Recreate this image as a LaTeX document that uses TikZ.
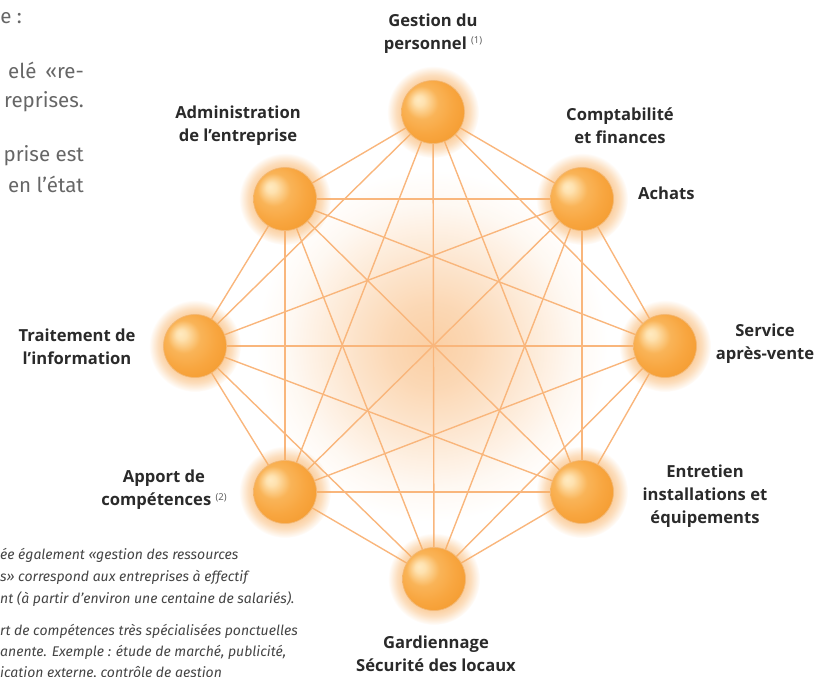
\documentclass[tikz,border=0pt]{standalone}
\usepackage{fontspec}
\setmainfont{Fira Sans}
\newfontfamily\labfont{Open Sans}
\usetikzlibrary{fadings}
\definecolor{linkc}{HTML}{F9B67C}
\definecolor{glowc}{HTML}{F8B062}
\definecolor{cglowc}{HTML}{F7A85A}
\definecolor{labc}{HTML}{2A2A2A}
\definecolor{supc}{HTML}{555555}
\definecolor{txtc}{HTML}{666666}
\definecolor{notec}{HTML}{444444}
\definecolor{rimc}{HTML}{EE9A3A}
\definecolor{hl}{HTML}{FFEAC0}
\definecolor{sa}{HTML}{FBC270}
\definecolor{sb}{HTML}{F8A640}
\definecolor{sc}{HTML}{F3992C}

\pgfdeclareradialshading{spheresh}{\pgfpoint{-12bp}{10bp}}{color(0bp)=(hl); color(4bp)=(hl!80!sa); color(13bp)=(sa!50!sb); color(23bp)=(sb); color(36bp)=(sc); color(50bp)=(sc)}
\pgfdeclareradialshading{glowfadesh}{\pgfpointorigin}{color(0bp)=(pgftransparent!0); color(16bp)=(pgftransparent!35); color(20bp)=(pgftransparent!58); color(25bp)=(pgftransparent!100); color(50bp)=(pgftransparent!100)}
\pgfdeclarefading{glowfade}{\pgfuseshading{glowfadesh}}
\pgfdeclareradialshading{cglowsh}{\pgfpointorigin}{color(0bp)=(pgftransparent!45); color(6bp)=(pgftransparent!55); color(13bp)=(pgftransparent!73); color(20bp)=(pgftransparent!92); color(25bp)=(pgftransparent!100); color(50bp)=(pgftransparent!100)}
\pgfdeclarefading{cglowfade}{\pgfuseshading{cglowsh}}

\tikzset{
  link/.style={draw=linkc, line width=1.4pt},
  halo/.style={fill=glowc, path fading=glowfade},
  sphere/.style={circle, minimum size=63pt, inner sep=0pt, shading=spheresh, draw=rimc!70, line width=0.7pt},
  lab/.style={font=\labfont\bfseries\fontsize{16.6}{22.8}\selectfont, text=labc, align=center, inner sep=0pt},
  para/.style={font=\fontsize{20.5}{29}\selectfont, text=txtc, inner sep=0pt},
  note/.style={font=\itshape\fontsize{14}{21}\selectfont, text=notec, inner sep=0pt, anchor=base west},
}
\newcommand{\fnmark}[1]{\raisebox{5.5pt}{\fontsize{9.5}{10}\selectfont\mdseries\color{supc}(#1)}}

\begin{document}
\begin{tikzpicture}[x=1pt,y=1pt]
\path[use as bounding box] (0,0) rectangle (817,-677);
\clip (0,0) rectangle (817,-677);

% centres
\coordinate (C) at (432,-346);
\coordinate (T) at (433,-112);
\coordinate (UR) at (582,-199);
\coordinate (R) at (665,-346);
\coordinate (LR) at (582,-492);
\coordinate (B) at (434,-579);
\coordinate (LL) at (285,-492);
\coordinate (L) at (195,-346);
\coordinate (UL) at (285,-199);

% central glow
\fill[cglowc, path fading=cglowfade] (C) circle (175pt);

% links (complete graph)
\foreach \a [count=\i] in {T,UR,R,LR,B,LL,L,UL}{
  \foreach \b [count=\j] in {T,UR,R,LR,B,LL,L,UL}{
    \ifnum\j>\i \draw[link] (\a) -- (\b); \fi
  }
}

% halos and spheres
\foreach \p in {T,UR,R,LR,B,LL,L,UL}{
  \fill[halo] (\p) circle (46pt);
  \node[sphere] (\p-ball) at (\p) {};
}

% labels
\node[lab] (lT) at (433,-33.5) {Gestion du\\personnel \fnmark{1}};
\node[lab] (lUL) at (238,-126) {Administration\\de l’entreprise};
\node[lab] (lUR) at (620,-126) {Comptabilité\\et finances};
\node[lab, anchor=west] (lUR2) at (638,-193) {Achats};
\node[lab] (lR) at (765,-344) {Service\\après-vente};
\node[lab] (lL) at (77,-347) {Traitement de\\l’information};
\node[lab] (lLL) at (164,-490) {Apport de\\compétences \fnmark{2}};
\node[lab] (lLR) at (705,-496) {Entretien\\installations et\\équipements};
\node[lab] (lB) at (436,-654) {Gardiennage\\Sécurité des locaux};

% clipped page text (top left)
\node[para, anchor=base east] (p1) at (22,-24) {e :};
\node[para, anchor=base east] (p2) at (84,-78) {elé \,«re-};
\node[para, anchor=base east] (p3) at (84,-107) {reprises.};
\node[para, anchor=base east] (p4) at (84,-161) {prise est};
\node[para, anchor=base east] (p5) at (84,-192) {en l’état};

% clipped footnotes (bottom left)
\node[note] (n1) at (0,-559) {ée également «gestion des ressources};
\node[note] (n2) at (0,-581) {s» correspond aux entreprises à effectif};
\node[note] (n3) at (0,-603) {nt (à partir d’environ une centaine de salariés).};
\node[note] (n4) at (0,-635) {rt de compétences très spécialisées ponctuelles};
\node[note] (n5) at (0,-656) {anente. Exemple : étude de marché, publicité,};
\node[note] (n6) at (0,-677) {ication externe, contrôle de gestion};
\end{tikzpicture}
\end{document}
